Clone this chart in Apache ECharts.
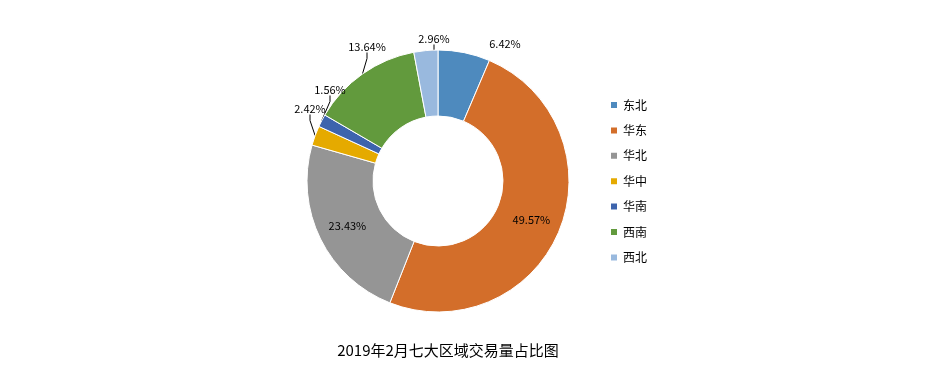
<!DOCTYPE html>
<html><head><meta charset="utf-8">
<script src="https://cdn.jsdelivr.net/npm/echarts@6/dist/echarts.min.js"></script>
<style>html,body{margin:0;padding:0;background:#fff}#c{width:952px;height:385px}</style>
</head><body><div id="c"></div>
<script>
const categories = ['东北','华东','华北','华中','华南','西南','西北'];
const values = [6.42, 49.57, 23.43, 2.42, 1.56, 13.64, 2.96];
const colors = ['#4e8abe','#d36e2a','#959595','#e5aa00','#3d64ad','#629a3d','#99b9de'];
const insideLabels = ['华东','华北'];
const titleText = '2019年2月七大区域交易量占比图';

const chart = echarts.init(document.getElementById('c'));
const FONT = '"Noto Sans CJK SC","Microsoft YaHei",sans-serif';
// label placement (text anchor positions for the outside labels, by data index)
const labelPos = { 0: [505, 44], 3: [310, 109], 4: [330, 90], 5: [367, 47], 6: [434, 39] };
chart.setOption({
  animation: false,
  color: colors,
  title: {
    text: titleText, left: 443, top: 338, textAlign: 'center',
    textStyle: { fontSize: 15, fontWeight: 'normal', color: '#000', fontFamily: FONT }
  },
  legend: {
    orient: 'vertical', left: 604, top: 94, itemWidth: 8, itemHeight: 8, itemGap: 13.4,
    icon: 'rect', data: categories,
    textStyle: { fontSize: 12, color: '#000', fontFamily: FONT }
  },
  series: [{
    type: 'pie', center: [438, 181], radius: [65, 131], startAngle: 90, clockwise: true,
    avoidLabelOverlap: false,
    itemStyle: { borderColor: '#fff', borderWidth: 1 },
    label: { fontSize: 11, color: '#000', fontFamily: FONT, formatter: p => p.value.toFixed(2) + '%' },
    labelLine: { length: 8, length2: 6, lineStyle: { color: '#000', width: 1 } },
    labelLayout: function (p) {
      const pos = labelPos[p.dataIndex];
      if (!pos) return {};
      return { x: pos[0], y: pos[1], align: 'center', verticalAlign: 'middle' };
    },
    data: categories.map((c, i) => ({
      name: c, value: values[i],
      label: { position: insideLabels.includes(c) ? 'inside' : 'outside' },
      labelLine: { show: !insideLabels.includes(c) && c !== '东北' }
    }))
  }]
});
</script></body></html>
